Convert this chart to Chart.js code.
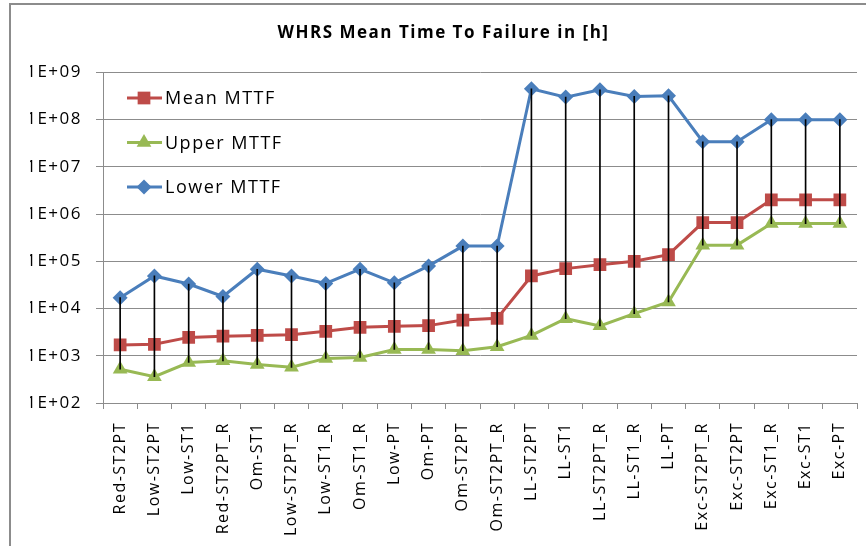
<!DOCTYPE html>
<html>
<head>
<meta charset="utf-8">
<script src="https://cdn.jsdelivr.net/npm/chart.js@4.4.0/dist/chart.umd.min.js"></script>
<style>
  body { margin: 0; background: #fff; }
  #wrap { position: relative; width: 866px; height: 546px; overflow: hidden; }
  #frame { position: absolute; left: 9px; top: 3px; width: 900px; height: 600px;
           border-left: 2px solid #8c8c8c; border-top: 2px solid #8c8c8c; pointer-events: none; }
</style>
</head>
<body>
<div id="wrap">
  <canvas id="chart" width="866" height="546"></canvas>
  <div id="frame"></div>
</div>
<script>

const labels = ['Red-ST2PT', 'Low-ST2PT', 'Low-ST1', 'Red-ST2PT_R', 'Om-ST1', 'Low-ST2PT_R',
    'Low-ST1_R', 'Om-ST1_R', 'Low-PT', 'Om-PT', 'Om-ST2PT', 'Om-ST2PT_R', 'LL-ST2PT', 'LL-ST1',
    'LL-ST2PT_R', 'LL-ST1_R', 'LL-PT', 'Exc-ST2PT_R', 'Exc-ST2PT', 'Exc-ST1_R', 'Exc-ST1', 'Exc-PT'];

const meanMTTF = [1.7e3, 1.75e3, 2.45e3, 2.6e3, 2.7e3, 2.8e3, 3.3e3, 4.0e3, 4.2e3, 4.35e3, 5.7e3,
    6.2e3, 4.9e4, 7.0e4, 8.5e4, 1.0e5, 1.38e5, 6.6e5, 6.6e5, 2e6, 2e6, 2e6];

const upperMTTF = [5.2e2, 3.6e2, 7.2e2, 7.8e2, 6.5e2, 5.7e2, 8.8e2, 9.2e2, 1.36e3, 1.36e3, 1.28e3,
    1.55e3, 2.7e3, 6.1e3, 4.3e3, 7.8e3, 1.38e4, 2.2e5, 2.2e5, 6.3e5, 6.3e5, 6.3e5];

const lowerMTTF = [1.7e4, 4.9e4, 3.3e4, 1.8e4, 6.8e4, 4.9e4, 3.4e4, 6.8e4, 3.5e4, 8e4, 2.1e5,
    2.1e5, 4.5e8, 3.0e8, 4.3e8, 3.1e8, 3.2e8, 3.4e7, 3.4e7, 1e8, 1e8, 1e8];

const yTicks = [1e2, 1e3, 1e4, 1e5, 1e6, 1e7, 1e8, 1e9];

const RED = '#BE4B48', GREEN = '#98B954', BLUE = '#4A7EBB', GRID = '#8c8c8c';
const FONT = "'Open Sans', sans-serif";

// high-low lines as thin floating bars between the upper and lower series
const hiLo = upperMTTF.map((v, i) => [v, lowerMTTF[i]]);

const spacing = {
    id: 'spacing',
    beforeLayout(chart) { chart.ctx.letterSpacing = '1.5px'; },
    beforeDraw(chart) { chart.ctx.letterSpacing = '1.5px'; }
};

// legend drawn inside the plot, top-left
const insideLegend = {
    id: 'insideLegend',
    afterDraw(chart) {
        const ctx = chart.ctx;
        const rows = [
            { text: 'Mean MTTF', color: RED, style: 'rect', r: 9 },
            { text: 'Upper MTTF', color: GREEN, style: 'triangle', r: 8.5 },
            { text: 'Lower MTTF', color: BLUE, style: 'rectRot', r: 7.5 }
        ];
        ctx.save();
        rows.forEach((row, i) => {
            const y = 98 + i * 44.5;
            ctx.strokeStyle = row.color;
            ctx.lineWidth = 3;
            ctx.beginPath();
            ctx.moveTo(127, y);
            ctx.lineTo(162, y);
            ctx.stroke();
            ctx.fillStyle = row.color;
            Chart.helpers.drawPoint(ctx, { pointStyle: row.style, radius: row.r, borderWidth: 0 }, 144, y);
            ctx.fillStyle = '#000';
            ctx.font = '18px ' + FONT;
            ctx.letterSpacing = '1.5px';
            ctx.textBaseline = 'middle';
            ctx.textAlign = 'left';
            ctx.fillText(row.text, 165, y + 1);
        });
        ctx.restore();
    }
};

new Chart(document.getElementById('chart').getContext('2d'), {
    type: 'line',
    data: {
        labels: labels,
        datasets: [
            {
                type: 'bar', label: 'hilo', data: hiLo, order: 0,
                backgroundColor: '#000', barThickness: 1, borderWidth: 0
            },
            {
                label: 'Mean MTTF', data: meanMTTF, order: 1,
                borderColor: RED, backgroundColor: RED, borderWidth: 3,
                pointStyle: 'rect', pointRadius: 9, pointBorderWidth: 0, tension: 0
            },
            {
                label: 'Upper MTTF', data: upperMTTF, order: 2,
                borderColor: GREEN, backgroundColor: GREEN, borderWidth: 3,
                pointStyle: 'triangle', pointRadius: 8.5, pointBorderWidth: 0, tension: 0
            },
            {
                label: 'Lower MTTF', data: lowerMTTF, order: 3,
                borderColor: BLUE, backgroundColor: BLUE, borderWidth: 3,
                pointStyle: 'rectRot', pointRadius: 7.5, pointBorderWidth: 0, tension: 0
            }
        ]
    },
    options: {
        responsive: false,
        animation: false,
        layout: { padding: { left: 30, right: 9, top: 0, bottom: 0 } },
        plugins: {
            legend: { display: false },
            tooltip: { enabled: false },
            title: {
                display: true,
                text: 'WHRS Mean Time To Failure in [h]',
                color: '#000',
                font: { family: FONT, size: 17, weight: 'bold' },
                padding: { top: 23, bottom: 29 }
            }
        },
        scales: {
            x: {
                offset: true,
                grid: { offset: true, drawOnChartArea: false, drawTicks: true, tickLength: 6, color: GRID },
                border: { color: GRID, width: 1 },
                ticks: {
                    minRotation: 90, maxRotation: 90, autoSkip: false, padding: 13,
                    color: '#000', font: { family: FONT, size: 16 }
                },
                afterFit: s => { s.height = 143; s.paddingLeft = 0; s.paddingRight = 0; }
            },
            y: {
                type: 'logarithmic',
                min: 1e2,
                max: 1e9,
                grid: { color: GRID, tickLength: 7 },
                border: { color: GRID, width: 1 },
                afterBuildTicks: s => { s.ticks = yTicks.map(v => ({ value: v })); },
                ticks: {
                    padding: 14,
                    color: '#000',
                    font: { family: FONT, size: 17 },
                    callback: v => '1E+' + String(Math.round(Math.log10(v))).padStart(2, '0')
                },
                afterFit: s => { s.width = 73; }
            }
        }
    },
    plugins: [spacing, insideLegend]
});
</script>
</body>
</html>
